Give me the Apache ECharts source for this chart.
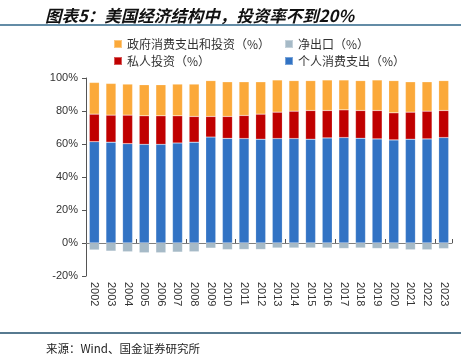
<!DOCTYPE html>
<html>
<head>
<meta charset="utf-8">
<script src="https://cdn.jsdelivr.net/npm/echarts@6/dist/echarts.min.js"></script>
<style>
  html, body { margin: 0; padding: 0; background: #fff; }
  #chart { width: 476px; height: 354px; }
</style>
</head>
<body>
<div id="chart"></div>
<script>
var years = ['2002', '2003', '2004', '2005', '2006', '2007', '2008', '2009', '2010', '2011', '2012',
    '2013', '2014', '2015', '2016', '2017', '2018', '2019', '2020', '2021', '2022', '2023'];

// 个人消费支出 (%)
var consumption = [61.4, 61.1, 60.2, 59.8, 59.8, 60.6, 61.1, 64.2, 63.4, 63.3, 62.9,
    63.3, 63.3, 62.9, 63.7, 63.9, 63.5, 63.1, 62.5, 62.9, 63.1, 63.9];
// 私人投资 (%)
var investment = [16.7, 16.4, 17.3, 17.3, 17.3, 16.5, 15.6, 12.5, 13.3, 14.0, 15.2,
    16.0, 16.6, 17.4, 16.6, 16.8, 16.8, 17.2, 16.4, 16.4, 16.8, 16.4];
// 政府消费支出和投资 (%)
var government = [19.2, 19.2, 18.8, 18.8, 18.8, 19.2, 19.6, 21.7, 21.0, 20.4, 19.6,
    19.5, 18.5, 18.1, 18.5, 18.1, 18.1, 18.5, 19.5, 18.4, 17.8, 18.1];
// 净出口 (%)
var netExports = [-4.2, -4.9, -5.3, -5.9, -5.9, -5.5, -5.3, -3.1, -4.0, -3.9, -3.9,
    -3.0, -3.0, -3.0, -3.0, -3.3, -3.0, -3.3, -3.6, -4.1, -4.1, -3.4];

var yTicks = [-20, 0, 20, 40, 60, 80, 100];

var myChart = echarts.init(document.getElementById('chart'));

var option;

option = {
    animation: false,
    title: [
        {
            text: '图表5：美国经济结构中，投资率不到20%',
            left: 40,
            top: 2,
            textStyle: {
                fontSize: 16.5,
                fontWeight: 'bold',
                fontStyle: 'italic',
                color: '#111',
                fontFamily: 'Noto Sans CJK SC'
            }
        },
        {
            text: '来源：Wind、国金证券研究所',
            left: 41,
            top: 338,
            textStyle: {
                fontSize: 11.5,
                fontWeight: 'normal',
                color: '#222',
                fontFamily: 'Noto Sans CJK SC'
            }
        }
    ],
    graphic: [
        { type: 'line', shape: { x1: 0, y1: 25, x2: 461, y2: 25 }, style: { stroke: '#2f6688', lineWidth: 1.5 } },
        { type: 'line', shape: { x1: 0, y1: 333, x2: 461, y2: 333 }, style: { stroke: '#1f4e6b', lineWidth: 1.5 } }
    ],
    legend: [
        {
            orient: 'vertical',
            left: 108,
            top: 33,
            itemGap: 5,
            itemWidth: 8,
            itemHeight: 8,
            icon: 'rect',
            textStyle: { fontSize: 12, color: '#333', fontFamily: 'Noto Sans CJK SC' },
            data: ['政府消费支出和投资（%）', '私人投资（%）']
        },
        {
            orient: 'vertical',
            left: 279,
            top: 33,
            itemGap: 5,
            itemWidth: 8,
            itemHeight: 8,
            icon: 'rect',
            textStyle: { fontSize: 12, color: '#333', fontFamily: 'Noto Sans CJK SC' },
            data: ['净出口（%）', '个人消费支出（%）']
        }
    ],
    grid: {
        left: 86,
        right: 24,
        top: 78,
        bottom: 78
    },
    xAxis: [
        {
            type: 'category',
            data: years,
            axisLine: { show: false, onZero: false },
            axisTick: { show: false },
            axisLabel: {
                rotate: -90,
                margin: 6,
                fontSize: 11,
                color: '#333',
                fontFamily: 'Liberation Sans'
            }
        },
        {
            type: 'category',
            data: years,
            position: 'bottom',
            axisLine: { show: true, onZero: true, lineStyle: { color: '#7f7f7f', width: 1 } },
            axisTick: { show: true, inside: true, length: 4, lineStyle: { color: '#555' } },
            axisLabel: { show: false }
        }
    ],
    yAxis: {
        type: 'value',
        min: yTicks[0],
        max: yTicks[yTicks.length - 1],
        interval: 20,
        splitLine: { show: false },
        axisLine: { show: true, lineStyle: { color: '#555', width: 1 } },
        axisTick: { show: true, length: 4, lineStyle: { color: '#555' } },
        axisLabel: {
            formatter: '{value}%',
            fontSize: 11,
            color: '#333',
            margin: 8,
            fontFamily: 'Liberation Sans'
        }
    },
    series: [
        {
            name: '个人消费支出（%）',
            type: 'bar',
            stack: 'gdp',
            barWidth: 10,
            data: consumption,
            itemStyle: { color: '#3273c4', borderColor: 'rgba(255,255,255,0.35)', borderWidth: 0.5 }
        },
        {
            name: '私人投资（%）',
            type: 'bar',
            stack: 'gdp',
            barWidth: 10,
            data: investment,
            itemStyle: { color: '#c00000', borderColor: 'rgba(255,255,255,0.35)', borderWidth: 0.5 }
        },
        {
            name: '政府消费支出和投资（%）',
            type: 'bar',
            stack: 'gdp',
            barWidth: 10,
            data: government,
            itemStyle: { color: '#fba93a', borderColor: 'rgba(255,255,255,0.35)', borderWidth: 0.5 }
        },
        {
            name: '净出口（%）',
            type: 'bar',
            stack: 'gdp',
            barWidth: 10,
            data: netExports,
            itemStyle: { color: '#a6bac7', borderColor: 'rgba(255,255,255,0.35)', borderWidth: 0.5 }
        }
    ]
};

if (option && typeof option === 'object') {
    myChart.setOption(option);
}
</script>
</body>
</html>
